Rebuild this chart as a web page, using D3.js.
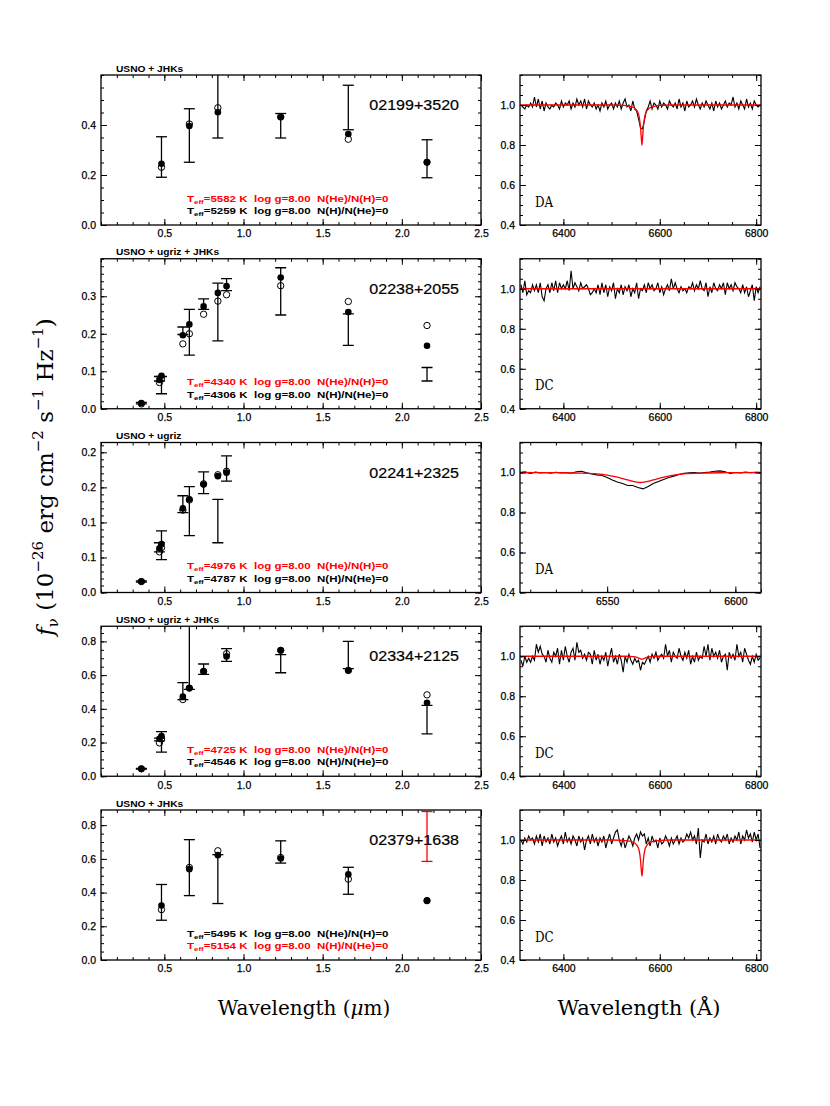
<!doctype html>
<html>
<head>
<meta charset="utf-8">
<title>SED and H-alpha fits</title>
<script src="https://cdn.jsdelivr.net/npm/d3@7"></script>
<style>
    body { margin: 0; background: #fff; }
    .serif { font-family: "DejaVu Serif", "Liberation Serif", serif; }
</style>
</head>
<body>
<svg width="830" height="1106"></svg>
<script>
// ---- objects and fit results ----
const objectNames = ["02199+3520", "02238+2055", "02241+2325", "02334+2125", "02379+1638"];
const photometrySets = ["USNO + JHKs", "USNO + ugriz + JHKs", "USNO + ugriz", "USNO + ugriz + JHKs", "USNO + JHKs"];
const spectralTypes = ["DA", "DC", "DA", "DC", "DC"];
const teffH = [5582, 4340, 4976, 4725, 5495];
const teffHe = [5259, 4306, 4787, 4546, 5154];
const preferredFit = ["H", "H", "H", "H", "He"];

// ---- photometric bands (micron) ----
const bandNames = ["u", "g", "B", "r", "R", "i", "I", "z", "J", "H", "Ks"];
const bandWaves = [0.355, 0.469, 0.482, 0.617, 0.658, 0.748, 0.838, 0.893, 1.235, 1.662, 2.159];

// ---- SEDs: observed flux, error, H model (filled), He model (open) ----
const sedBands = [
    ["B", "R", "I", "J", "H", "Ks"],
    ["u", "g", "B", "r", "R", "i", "I", "z", "J", "H", "Ks"],
    ["u", "g", "B", "r", "R", "i", "I", "z"],
    ["u", "g", "B", "r", "R", "i", "z", "J", "H", "Ks"],
    ["B", "R", "I", "J", "H", "Ks"]
];
const sedFlux = [
    [0.272, 0.358, 0.480, 0.397, 0.470, 0.265],
    [0.015, 0.080, 0.063, 0.208, 0.204, 0.279, 0.258, 0.331, 0.313, 0.211, 0.092],
    [0.0156, 0.0645, 0.0675, 0.126, 0.116, 0.1565, 0.102, 0.177],
    [0.044, 0.218, 0.204, 0.505, 0.800, 0.635, 0.719, 0.668, 0.719, 0.336],
    [0.342, 0.548, 0.480, 0.641, 0.470, 0.733]
];
const sedErr = [
    [0.081, 0.107, 0.132, 0.049, 0.089, 0.076],
    [0.002, 0.006, 0.023, 0.010, 0.061, 0.014, 0.077, 0.016, 0.063, 0.042, 0.018],
    [0.0008, 0.0065, 0.0205, 0.012, 0.035, 0.0155, 0.031, 0.018],
    [0.002, 0.008, 0.061, 0.050, 0.285, 0.031, 0.038, 0.054, 0.081, 0.085],
    [0.106, 0.166, 0.145, 0.066, 0.080, 0.148]
];
const sedModelH = [
    [0.245, 0.396, 0.451, 0.431, 0.364, 0.251],
    [0.015, 0.077, 0.088, 0.196, 0.225, 0.273, 0.309, 0.327, 0.350, 0.258, 0.168],
    [0.0156, 0.063, 0.069, 0.120, 0.133, 0.154, 0.166, 0.171],
    [0.044, 0.222, 0.238, 0.473, 0.523, 0.622, 0.711, 0.747, 0.628, 0.436],
    [0.323, 0.539, 0.622, 0.602, 0.508, 0.352]
];
const sedModelHe = [
    [0.231, 0.404, 0.469, 0.433, 0.343, 0.251],
    [0.013, 0.070, 0.080, 0.173, 0.200, 0.252, 0.287, 0.304, 0.328, 0.286, 0.222],
    [0.0156, 0.058, 0.064, 0.1175, 0.132, 0.155, 0.168, 0.173],
    [0.044, 0.198, 0.222, 0.455, 0.523, 0.622, 0.727, 0.747, 0.628, 0.483],
    [0.299, 0.549, 0.648, 0.608, 0.480, 0.352]
];
const sedRejected = [[], [], [], [], ["Ks"]];

const sedXDomain = [0.1, 2.5];
const sedXTicks = [0.5, 1.0, 1.5, 2.0, 2.5];
const sedXTickLabels = ["0.5", "1.0", "1.5", "2.0", "2.5"];
const sedYMax = [0.6, 0.4, 0.214, 0.89, 0.89];
const sedYTicks = [[0, 0.2, 0.4], [0, 0.1, 0.2, 0.3], [0, 0.05, 0.1, 0.15, 0.2], [0, 0.2, 0.4, 0.6, 0.8], [0, 0.2, 0.4, 0.6, 0.8]];
const sedYTickLabels = [
    ["0.0", "0.2", "0.4"],
    ["0.0", "0.1", "0.2", "0.3"],
    ["0.0", "0.1", "0.1", "0.2", "0.2"],
    ["0.0", "0.2", "0.4", "0.6", "0.8"],
    ["0.0", "0.2", "0.4", "0.6", "0.8"]
];
const sedYMinor = [0.05, 0.02, 0.01, 0.05, 0.05];

// ---- H-alpha spectra (normalised flux on a regular grid) ----
const specGridStart = [6312, 6312, 6516, 6312, 6312];
const specGridStep = [4, 4, 2, 4, 4];
const specFlux02199 = [
    1.00, 0.99, 0.98, 1.00, 0.99, 1.01, 0.99, 1.04, 0.99, 1.03,
    0.98, 1.02, 0.97, 1.01, 0.99, 0.98, 1.00, 0.99, 1.01, 1.00,
    0.98, 1.02, 0.99, 1.01, 1.00, 1.02, 0.98, 1.01, 0.99, 1.03,
    1.00, 1.02, 0.99, 1.03, 0.98, 1.02, 1.00, 0.99, 1.01, 0.98,
    1.00, 0.97, 1.01, 0.99, 1.02, 0.98, 1.00, 1.01, 0.98, 1.01,
    0.99, 1.02, 0.98, 1.01, 1.03, 0.99, 1.00, 0.97, 1.02, 0.98,
    0.97, 0.93, 0.885, 0.88, 0.92, 0.97, 0.99, 1.02, 0.98, 1.01,
    1.00, 0.98, 1.02, 0.99, 1.01, 1.00, 0.98, 1.02, 1.00, 0.99,
    1.01, 0.98, 1.03, 0.99, 1.01, 0.97, 1.02, 0.99, 1.00, 1.02,
    0.99, 1.03, 1.00, 0.98, 1.01, 0.99, 1.02, 1.00, 0.98, 1.01,
    0.97, 1.02, 0.99, 1.01, 0.98, 1.00, 1.02, 0.99, 1.01, 1.00,
    1.04, 0.99, 1.01, 0.98, 1.02, 1.00, 0.98, 1.03, 0.99, 1.01,
    0.98, 1.02, 1.00, 0.99, 1.00
];
const specFlux02238 = [
    1.02, 0.98, 1.04, 0.97, 0.99, 0.98, 1.02, 0.99, 1.02, 0.98,
    1.03, 0.96, 0.94, 1.00, 1.02, 0.98, 1.03, 0.99, 1.04, 0.98,
    1.03, 1.00, 1.02, 1.00, 1.04, 0.99, 1.09, 1.00, 1.03, 1.01,
    0.99, 1.03, 1.00, 1.01, 1.02, 1.00, 0.97, 0.98, 1.00, 0.98,
    1.02, 0.97, 1.03, 0.98, 1.02, 0.96, 1.01, 0.99, 1.03, 0.95,
    1.00, 0.98, 1.02, 0.97, 1.01, 0.99, 1.02, 0.96, 1.00, 0.98,
    1.03, 0.95, 1.00, 0.99, 1.02, 0.98, 1.03, 1.00, 1.02, 0.99,
    1.00, 1.03, 0.98, 1.01, 0.97, 1.00, 1.02, 0.99, 1.05, 1.00,
    1.03, 1.00, 0.98, 1.01, 0.99, 1.00, 0.98, 1.01, 1.00, 1.03,
    0.99, 1.02, 1.00, 1.04, 1.00, 0.99, 1.03, 0.96, 1.01, 0.98,
    1.03, 1.00, 0.99, 1.02, 1.00, 1.03, 0.97, 1.03, 1.00, 1.02,
    0.99, 1.03, 1.01, 1.00, 0.98, 1.02, 0.98, 1.01, 0.96, 0.99,
    1.02, 0.94, 1.01, 0.98, 1.01
];
const specFlux02241 = [
    1.000, 1.003, 0.995, 1.002, 0.998, 1.000, 0.997, 1.001, 0.998, 1.000,
    0.996, 1.004, 1.006, 0.998, 0.993, 0.988, 0.985, 0.975, 0.962, 0.952,
    0.945, 0.935, 0.935, 0.925, 0.918, 0.930, 0.945, 0.955, 0.965, 0.975,
    0.982, 0.990, 0.996, 0.998, 1.000, 0.997, 1.000, 1.002, 1.006, 1.008,
    1.004, 0.995, 1.000, 0.998, 1.002, 0.999, 1.001, 1.000
];
const specFlux02334 = [
    0.98, 0.95, 1.00, 0.97, 0.99, 0.97, 1.00, 0.98, 1.06, 1.02,
    1.05, 1.01, 1.00, 0.97, 1.03, 0.99, 0.97, 1.02, 1.00, 1.04,
    0.96, 1.03, 0.98, 1.05, 1.00, 0.97, 1.02, 1.04, 0.98, 1.07,
    1.02, 1.03, 0.99, 1.01, 0.98, 1.02, 1.01, 0.96, 1.03, 0.98,
    1.01, 0.96, 1.00, 0.98, 1.02, 0.95, 1.00, 1.04, 0.97, 1.00,
    0.96, 1.01, 0.98, 0.92, 1.00, 0.97, 1.01, 0.98, 0.96, 0.99,
    0.97, 0.98, 0.93, 0.97, 0.96, 0.98, 1.00, 0.97, 1.01, 0.99,
    1.02, 0.98, 1.00, 1.01, 0.99, 1.06, 1.00, 1.03, 0.97, 1.02,
    1.00, 0.99, 1.04, 1.00, 0.98, 1.02, 0.99, 1.03, 0.96, 1.00,
    0.97, 1.02, 0.98, 1.00, 0.99, 1.05, 1.00, 1.06, 0.98, 1.04,
    1.00, 1.02, 0.99, 1.03, 0.97, 1.00, 1.01, 0.93, 1.02, 0.99,
    1.01, 0.98, 1.06, 1.00, 1.02, 0.97, 1.04, 1.01, 0.98, 0.96,
    1.00, 0.97, 1.01, 0.98, 0.99
];
const specFlux02379 = [
    1.00, 0.98, 1.01, 0.99, 1.02, 1.00, 1.01, 0.98, 1.02, 0.99,
    1.03, 0.97, 1.02, 0.99, 1.01, 0.98, 1.03, 0.99, 1.01, 0.97,
    1.00, 1.02, 0.98, 1.04, 0.99, 1.01, 0.98, 1.02, 1.00, 0.97,
    1.02, 0.99, 1.01, 0.95, 1.00, 1.02, 0.98, 1.03, 0.99, 1.01,
    0.97, 1.01, 0.99, 1.02, 0.96, 1.00, 1.03, 0.98, 1.01, 1.04,
    1.05, 1.00, 0.97, 1.01, 0.96, 0.99, 1.02, 1.00, 0.97, 1.01,
    1.03, 1.00, 1.04, 1.02, 1.03, 0.98, 1.01, 0.97, 1.02, 0.99,
    1.00, 0.96, 1.01, 0.98, 0.99, 1.02, 1.00, 0.97, 1.01, 0.98,
    1.00, 1.02, 0.98, 1.01, 0.99, 1.00, 1.03, 1.01, 1.04, 1.00,
    1.02, 0.98, 1.06, 0.91, 1.00, 0.99, 1.03, 0.98, 1.01, 0.99,
    1.02, 0.98, 1.03, 1.00, 0.99, 1.02, 1.00, 1.03, 0.98, 1.01,
    0.99, 1.02, 1.00, 1.04, 0.98, 1.02, 1.00, 1.05, 1.01, 1.03,
    0.99, 1.04, 1.00, 1.03, 0.96
];
const specFlux = [specFlux02199, specFlux02238, specFlux02241, specFlux02334, specFlux02379];

// model profiles [wavelength, flux]
const modelProfile02199 = [[6310, 1.0], [6500, 1.0], [6525, 0.998], [6540, 0.992], [6548, 0.984], [6553, 0.970], [6557, 0.945], [6560, 0.89], [6562, 0.825], [6563, 0.80], [6564, 0.825], [6566, 0.89], [6569, 0.945], [6573, 0.970], [6578, 0.984], [6586, 0.992], [6600, 0.998], [6625, 1.0], [6810, 1.0]];
const modelProfile02238 = [[6310, 1.0], [6810, 1.0]];
const modelProfile02241 = [[6516, 1.0], [6530, 0.999], [6540, 0.997], [6546, 0.993], [6550, 0.987], [6554, 0.977], [6558, 0.963], [6561, 0.953], [6563, 0.950], [6565, 0.953], [6568, 0.963], [6572, 0.977], [6576, 0.987], [6580, 0.993], [6586, 0.997], [6596, 0.999], [6610, 1.0]];
const modelProfile02334 = [[6310, 1.0], [6530, 1.0], [6545, 0.998], [6553, 0.994], [6559, 0.988], [6563, 0.985], [6567, 0.988], [6573, 0.994], [6581, 0.998], [6596, 1.0], [6810, 1.0]];
const modelProfile02379 = [[6310, 1.0], [6500, 1.0], [6525, 0.998], [6540, 0.993], [6548, 0.985], [6553, 0.972], [6557, 0.95], [6560, 0.90], [6562, 0.84], [6563, 0.82], [6564, 0.84], [6566, 0.90], [6569, 0.95], [6573, 0.972], [6578, 0.985], [6586, 0.993], [6600, 0.998], [6625, 1.0], [6810, 1.0]];
const modelProfiles = [modelProfile02199, modelProfile02238, modelProfile02241, modelProfile02334, modelProfile02379];

const specXDomain = [[6310, 6810], [6310, 6810], [6516, 6610], [6310, 6810], [6310, 6810]];
const specXTicks = [[6400, 6600, 6800], [6400, 6600, 6800], [6550, 6600], [6400, 6600, 6800], [6400, 6600, 6800]];
const specXMinor = [50, 50, 10, 50, 50];
const specYDomain = [0.4, 1.15];
const specYTicks = [0.4, 0.6, 0.8, 1.0];
const specYTickLabels = ["0.4", "0.6", "0.8", "1.0"];

// ---- layout ----
let svg = d3.select("svg");
let leftPanel = {x0: 101, x1: 481}, rightPanel = {x0: 520, x1: 761};
let rowTop = i => 75 + i * 183.75, rowHeight = 150;
let red = "#ff0000";

function minorValues(domain, step) {
    let lo = Math.ceil(domain[0] / step - 1e-6), hi = Math.floor(domain[1] / step + 1e-6);
    return d3.range(lo, hi + 1).map(k => +(k * step).toFixed(6));
}

function widen(sel, k) {
    sel.each(function () {
        let w = this.getComputedTextLength();
        d3.select(this).attr("textLength", w * k).attr("lengthAdjust", "spacingAndGlyphs");
    });
}

// frame with inward ticks on all four sides (PGPLOT style)
function drawFrame(g, x, y, xt, xtl, xMinor, yt, ytl, yMinor) {
    let [x0, x1] = x.range(), [y1, y0] = y.range();
    let styleAxis = a => {
        a.select(".domain").remove();
        a.selectAll("line").attr("stroke", "#000").attr("stroke-width", 1);
        a.attr("font-family", "'Liberation Sans', Arial, sans-serif").attr("font-size", 10.5);
        a.selectAll("text").attr("fill", "#000").attr("stroke", "#000").attr("stroke-width", 0.25);
    };
    let xm = minorValues(x.domain(), xMinor), ym = minorValues(y.domain(), yMinor);

    g.append("g").attr("transform", "translate(0," + y1 + ")")
        .call(d3.axisBottom(x).tickValues(xt).tickFormat((d, i) => xtl[i]).tickSize(-6).tickPadding(5)).call(styleAxis);
    g.append("g").attr("transform", "translate(0," + y1 + ")")
        .call(d3.axisBottom(x).tickValues(xm).tickFormat("").tickSize(-3)).call(styleAxis);
    g.append("g").attr("transform", "translate(0," + y0 + ")")
        .call(d3.axisTop(x).tickValues(xt).tickFormat("").tickSize(-6)).call(styleAxis);
    g.append("g").attr("transform", "translate(0," + y0 + ")")
        .call(d3.axisTop(x).tickValues(xm).tickFormat("").tickSize(-3)).call(styleAxis);

    g.append("g").attr("transform", "translate(" + x0 + ",0)")
        .call(d3.axisLeft(y).tickValues(yt).tickFormat((d, i) => ytl[i]).tickSize(-6).tickPadding(5)).call(styleAxis);
    g.append("g").attr("transform", "translate(" + x0 + ",0)")
        .call(d3.axisLeft(y).tickValues(ym).tickFormat("").tickSize(-3)).call(styleAxis);
    g.append("g").attr("transform", "translate(" + x1 + ",0)")
        .call(d3.axisRight(y).tickValues(yt).tickFormat("").tickSize(-6)).call(styleAxis);
    g.append("g").attr("transform", "translate(" + x1 + ",0)")
        .call(d3.axisRight(y).tickValues(ym).tickFormat("").tickSize(-3)).call(styleAxis);

    g.append("rect").attr("x", x0).attr("y", y0).attr("width", x1 - x0).attr("height", y1 - y0)
        .attr("fill", "none").attr("stroke", "#000").attr("stroke-width", 1.3);
}

objectNames.forEach((name, r) => {
    let top = rowTop(r), bottom = top + rowHeight;

    // ----- SED panel -----
    let g = svg.append("g");
    let x = d3.scaleLinear().domain(sedXDomain).range([leftPanel.x0, leftPanel.x1]);
    let y = d3.scaleLinear().domain([0, sedYMax[r]]).range([bottom, top]);

    let clipId = "clipL" + r;
    svg.append("clipPath").attr("id", clipId).append("rect")
        .attr("x", leftPanel.x0).attr("y", top).attr("width", leftPanel.x1 - leftPanel.x0).attr("height", rowHeight);

    let pts = sedBands[r].map((b, j) => ({
        wl: bandWaves[bandNames.indexOf(b)],
        f: sedFlux[r][j], e: sedErr[r][j],
        h: sedModelH[r][j], he: sedModelHe[r][j],
        rej: sedRejected[r].includes(b)
    }));
    let marks = g.append("g").attr("clip-path", "url(#" + clipId + ")");
    let bars = marks.selectAll(".bar").data(pts).enter().append("g").attr("class", "bar")
        .attr("stroke", d => d.rej ? red : "#000").attr("stroke-width", 1.3);
    bars.append("line").attr("x1", d => x(d.wl)).attr("x2", d => x(d.wl))
        .attr("y1", d => y(d.f - d.e)).attr("y2", d => y(d.f + d.e));
    bars.append("line").attr("x1", d => x(d.wl) - 5.5).attr("x2", d => x(d.wl) + 5.5)
        .attr("y1", d => y(d.f - d.e)).attr("y2", d => y(d.f - d.e));
    bars.append("line").attr("x1", d => x(d.wl) - 5.5).attr("x2", d => x(d.wl) + 5.5)
        .attr("y1", d => y(d.f + d.e)).attr("y2", d => y(d.f + d.e));
    marks.selectAll(".he").data(pts).enter().append("circle").attr("class", "he")
        .attr("cx", d => x(d.wl)).attr("cy", d => y(d.he)).attr("r", 3.2)
        .attr("fill", "none").attr("stroke", "#000").attr("stroke-width", 1);
    marks.selectAll(".h").data(pts).enter().append("circle").attr("class", "h")
        .attr("cx", d => x(d.wl)).attr("cy", d => y(d.h)).attr("r", 3.3).attr("fill", "#000");

    drawFrame(g, x, y, sedXTicks, sedXTickLabels, 0.1, sedYTicks[r], sedYTickLabels[r], sedYMinor[r]);

    g.append("text").attr("x", leftPanel.x0 + 15).attr("y", top - 3.5)
        .attr("font-family", "'Liberation Sans', Arial, sans-serif").attr("font-weight", "bold").attr("font-size", 8.5)
        .text(photometrySets[r]).call(widen, 1.2);

    g.append("text").attr("x", leftPanel.x1 - 22).attr("y", top + 35).attr("text-anchor", "end")
        .attr("font-family", "'Liberation Sans', Arial, sans-serif").attr("font-size", 15)
        .attr("stroke", "#000").attr("stroke-width", 0.2)
        .text(name).call(widen, 1.07);

    let fitLines = [
        {t: teffH[r], comp: "N(He)/N(H)=0", pref: preferredFit[r] === "H"},
        {t: teffHe[r], comp: "N(H)/N(He)=0", pref: preferredFit[r] === "He"}
    ];
    fitLines.forEach((fl, k) => {
        let t = g.append("text").attr("x", leftPanel.x0 + 86).attr("y", top + 126.5 + k * 12.5)
            .attr("font-family", "'Liberation Sans', Arial, sans-serif").attr("font-weight", "bold")
            .attr("font-size", 8.8).attr("fill", fl.pref ? red : "#000").attr("xml:space", "preserve");
        t.append("tspan").text("T");
        t.append("tspan").attr("font-size", 6).attr("dy", 2).text("eff");
        t.append("tspan").attr("dy", -2).text("=" + fl.t + " K  log g=8.00  " + fl.comp);
        t.call(widen, 1.31);
    });

    // ----- H-alpha panel -----
    let gs = svg.append("g");
    let xs = d3.scaleLinear().domain(specXDomain[r]).range([rightPanel.x0, rightPanel.x1]);
    let ys = d3.scaleLinear().domain(specYDomain).range([bottom, top]);
    let clipS = "clipR" + r;
    svg.append("clipPath").attr("id", clipS).append("rect")
        .attr("x", rightPanel.x0).attr("y", top).attr("width", rightPanel.x1 - rightPanel.x0).attr("height", rowHeight);

    let obs = specFlux[r].map((f, i) => [specGridStart[r] + i * specGridStep[r], f]);
    let sm = gs.append("g").attr("clip-path", "url(#" + clipS + ")");
    sm.append("path").datum(obs)
        .attr("d", d3.line().x(d => xs(d[0])).y(d => ys(d[1])))
        .attr("fill", "none").attr("stroke", "#000").attr("stroke-width", 1.1);
    sm.append("path").datum(modelProfiles[r])
        .attr("d", d3.line().x(d => xs(d[0])).y(d => ys(d[1])).curve(d3.curveMonotoneX))
        .attr("fill", "none").attr("stroke", red).attr("stroke-width", 1.3);

    drawFrame(gs, xs, ys, specXTicks[r], specXTicks[r].map(String), specXMinor[r], specYTicks, specYTickLabels, 0.05);

    gs.append("text").attr("class", "serif").attr("x", rightPanel.x0 + 15).attr("y", top + 131.5)
        .attr("font-size", 14).text(spectralTypes[r]).call(widen, 0.85);
});

// ---- axis titles ----
let yl = svg.append("text").attr("class", "serif").attr("font-size", 23).attr("text-anchor", "middle")
    .attr("transform", "translate(53,477) rotate(-90)");
yl.append("tspan").attr("font-style", "italic").text("f");
yl.append("tspan").attr("font-size", 15).attr("dy", 5).text("ν");
yl.append("tspan").attr("dy", -5).text(" (10");
yl.append("tspan").attr("font-size", 15).attr("dy", -10).text("−26");
yl.append("tspan").attr("dy", 10).text(" erg cm");
yl.append("tspan").attr("font-size", 15).attr("dy", -10).text("−2");
yl.append("tspan").attr("dy", 10).text(" s");
yl.append("tspan").attr("font-size", 15).attr("dy", -10).text("−1");
yl.append("tspan").attr("dy", 10).text(" Hz");
yl.append("tspan").attr("font-size", 15).attr("dy", -10).text("−1");
yl.append("tspan").attr("dy", 10).text(")");

let xl = svg.append("text").attr("class", "serif").attr("font-size", 20).attr("text-anchor", "middle")
    .attr("x", 304).attr("y", 1015);
xl.append("tspan").text("Wavelength (");
xl.append("tspan").attr("font-style", "italic").text("μ");
xl.append("tspan").text("m)");

svg.append("text").attr("class", "serif").attr("font-size", 21).attr("text-anchor", "middle")
    .attr("x", 639).attr("y", 1015).text("Wavelength (Å)");
</script>
</body>
</html>
